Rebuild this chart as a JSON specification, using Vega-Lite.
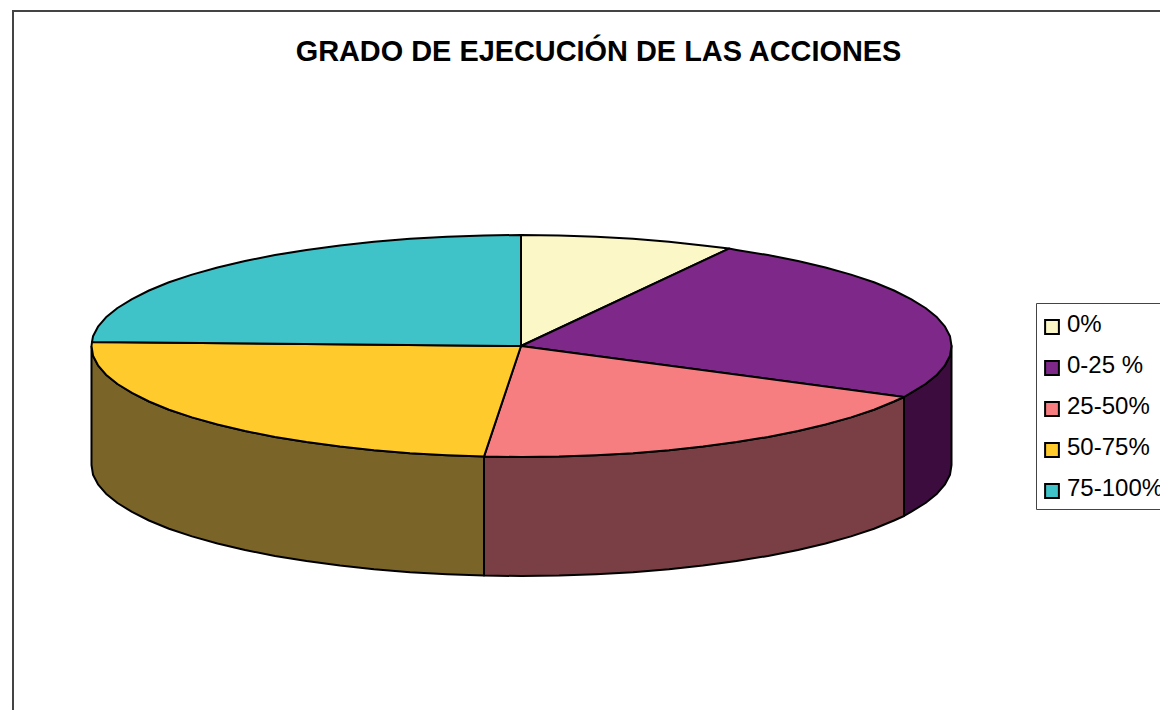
{
"$schema":"https://vega.github.io/schema/vega-lite/v6.json",
"width":1160,"height":710,"padding":0,"autosize":{"type":"none"},"background":"white",
"config":{"view":{"stroke":null},"font":"Liberation Sans"},
"title":{"text":"GRADO DE EJECUCIÓN DE LAS ACCIONES","font":"Liberation Sans","fontSize":28.9,"fontWeight":"bold","color":"black","anchor":"middle","dx":18.5,"dy":71},
"datasets":{
"frame":[{"i":1,"x":13,"y":710},{"i":2,"x":13,"y":11},{"i":3,"x":1160,"y":11}],
"sides":[
{"s":"0-25 %","i":1,"x":904,"y":397},{"s":"0-25 %","i":2,"x":911,"y":392.9},{"s":"0-25 %","i":3,"x":925.5,"y":384},{"s":"0-25 %","i":4,"x":937,"y":374.7},{"s":"0-25 %","i":5,"x":945,"y":365.3},{"s":"0-25 %","i":6,"x":950,"y":355.7},{"s":"0-25 %","i":7,"x":951.5,"y":346},{"s":"0-25 %","i":8,"x":951.5,"y":465},{"s":"0-25 %","i":9,"x":950,"y":474.7},{"s":"0-25 %","i":10,"x":945,"y":484.3},{"s":"0-25 %","i":11,"x":937,"y":493.7},{"s":"0-25 %","i":12,"x":925.5,"y":503},{"s":"0-25 %","i":13,"x":911,"y":511.9},{"s":"0-25 %","i":14,"x":904,"y":516},{"s":"0-25 %","i":15,"x":904,"y":397},
{"s":"25-50%","i":1,"x":484,"y":456.6},{"s":"25-50%","i":2,"x":521.5,"y":457},{"s":"25-50%","i":3,"x":559,"y":456.6},{"s":"25-50%","i":4,"x":596,"y":455.3},{"s":"25-50%","i":5,"x":633,"y":453.2},{"s":"25-50%","i":6,"x":669,"y":450.3},{"s":"25-50%","i":7,"x":703,"y":446.6},{"s":"25-50%","i":8,"x":736.5,"y":442.1},{"s":"25-50%","i":9,"x":768,"y":436.9},{"s":"25-50%","i":10,"x":798,"y":431},{"s":"25-50%","i":11,"x":825.5,"y":424.5},{"s":"25-50%","i":12,"x":851,"y":417.4},{"s":"25-50%","i":13,"x":874,"y":409.7},{"s":"25-50%","i":14,"x":894,"y":401.5},{"s":"25-50%","i":15,"x":904,"y":397},{"s":"25-50%","i":16,"x":904,"y":516},{"s":"25-50%","i":17,"x":894,"y":520.5},{"s":"25-50%","i":18,"x":874,"y":528.7},{"s":"25-50%","i":19,"x":851,"y":536.4},{"s":"25-50%","i":20,"x":825.5,"y":543.5},{"s":"25-50%","i":21,"x":798,"y":550},{"s":"25-50%","i":22,"x":768,"y":555.9},{"s":"25-50%","i":23,"x":736.5,"y":561.1},{"s":"25-50%","i":24,"x":703,"y":565.6},{"s":"25-50%","i":25,"x":669,"y":569.3},{"s":"25-50%","i":26,"x":633,"y":572.2},{"s":"25-50%","i":27,"x":596,"y":574.3},{"s":"25-50%","i":28,"x":559,"y":575.6},{"s":"25-50%","i":29,"x":521.5,"y":576},{"s":"25-50%","i":30,"x":484,"y":575.6},{"s":"25-50%","i":31,"x":484,"y":456.6},
{"s":"50-75%","i":1,"x":91.5,"y":346},{"s":"50-75%","i":2,"x":93,"y":355.7},{"s":"50-75%","i":3,"x":98,"y":365.3},{"s":"50-75%","i":4,"x":106,"y":374.7},{"s":"50-75%","i":5,"x":117.5,"y":384},{"s":"50-75%","i":6,"x":132,"y":392.9},{"s":"50-75%","i":7,"x":149,"y":401.5},{"s":"50-75%","i":8,"x":169,"y":409.7},{"s":"50-75%","i":9,"x":192,"y":417.4},{"s":"50-75%","i":10,"x":217.5,"y":424.5},{"s":"50-75%","i":11,"x":245,"y":431},{"s":"50-75%","i":12,"x":275,"y":436.9},{"s":"50-75%","i":13,"x":306.5,"y":442.1},{"s":"50-75%","i":14,"x":340,"y":446.6},{"s":"50-75%","i":15,"x":374,"y":450.3},{"s":"50-75%","i":16,"x":410,"y":453.2},{"s":"50-75%","i":17,"x":447,"y":455.3},{"s":"50-75%","i":18,"x":484,"y":456.6},{"s":"50-75%","i":19,"x":484,"y":575.6},{"s":"50-75%","i":20,"x":447,"y":574.3},{"s":"50-75%","i":21,"x":410,"y":572.2},{"s":"50-75%","i":22,"x":374,"y":569.3},{"s":"50-75%","i":23,"x":340,"y":565.6},{"s":"50-75%","i":24,"x":306.5,"y":561.1},{"s":"50-75%","i":25,"x":275,"y":555.9},{"s":"50-75%","i":26,"x":245,"y":550},{"s":"50-75%","i":27,"x":217.5,"y":543.5},{"s":"50-75%","i":28,"x":192,"y":536.4},{"s":"50-75%","i":29,"x":169,"y":528.7},{"s":"50-75%","i":30,"x":149,"y":520.5},{"s":"50-75%","i":31,"x":132,"y":511.9},{"s":"50-75%","i":32,"x":117.5,"y":503},{"s":"50-75%","i":33,"x":106,"y":493.7},{"s":"50-75%","i":34,"x":98,"y":484.3},{"s":"50-75%","i":35,"x":93,"y":474.7},{"s":"50-75%","i":36,"x":91.5,"y":465},{"s":"50-75%","i":37,"x":91.5,"y":346}
],
"tops":[
{"s":"0%","i":1,"x":521,"y":346},{"s":"0%","i":2,"x":521,"y":235},{"s":"0%","i":3,"x":559,"y":235.4},{"s":"0%","i":4,"x":596,"y":236.7},{"s":"0%","i":5,"x":633,"y":238.8},{"s":"0%","i":6,"x":669,"y":241.7},{"s":"0%","i":7,"x":703,"y":245.4},{"s":"0%","i":8,"x":729,"y":248.6},{"s":"0%","i":9,"x":521,"y":346},
{"s":"0-25 %","i":1,"x":521,"y":346},{"s":"0-25 %","i":2,"x":729,"y":248.6},{"s":"0-25 %","i":3,"x":736.5,"y":249.9},{"s":"0-25 %","i":4,"x":768,"y":255.1},{"s":"0-25 %","i":5,"x":798,"y":261},{"s":"0-25 %","i":6,"x":825.5,"y":267.5},{"s":"0-25 %","i":7,"x":851,"y":274.6},{"s":"0-25 %","i":8,"x":874,"y":282.3},{"s":"0-25 %","i":9,"x":894,"y":290.5},{"s":"0-25 %","i":10,"x":911,"y":299.1},{"s":"0-25 %","i":11,"x":925.5,"y":308},{"s":"0-25 %","i":12,"x":937,"y":317.3},{"s":"0-25 %","i":13,"x":945,"y":326.7},{"s":"0-25 %","i":14,"x":950,"y":336.3},{"s":"0-25 %","i":15,"x":951.5,"y":346},{"s":"0-25 %","i":16,"x":950,"y":355.7},{"s":"0-25 %","i":17,"x":945,"y":365.3},{"s":"0-25 %","i":18,"x":937,"y":374.7},{"s":"0-25 %","i":19,"x":925.5,"y":384},{"s":"0-25 %","i":20,"x":911,"y":392.9},{"s":"0-25 %","i":21,"x":904,"y":397},{"s":"0-25 %","i":22,"x":521,"y":346},
{"s":"25-50%","i":1,"x":521,"y":346},{"s":"25-50%","i":2,"x":904,"y":397},{"s":"25-50%","i":3,"x":894,"y":401.5},{"s":"25-50%","i":4,"x":874,"y":409.7},{"s":"25-50%","i":5,"x":851,"y":417.4},{"s":"25-50%","i":6,"x":825.5,"y":424.5},{"s":"25-50%","i":7,"x":798,"y":431},{"s":"25-50%","i":8,"x":768,"y":436.9},{"s":"25-50%","i":9,"x":736.5,"y":442.1},{"s":"25-50%","i":10,"x":703,"y":446.6},{"s":"25-50%","i":11,"x":669,"y":450.3},{"s":"25-50%","i":12,"x":633,"y":453.2},{"s":"25-50%","i":13,"x":596,"y":455.3},{"s":"25-50%","i":14,"x":559,"y":456.6},{"s":"25-50%","i":15,"x":521.5,"y":457},{"s":"25-50%","i":16,"x":484,"y":456.6},{"s":"25-50%","i":17,"x":521,"y":346},
{"s":"50-75%","i":1,"x":521,"y":346},{"s":"50-75%","i":2,"x":484,"y":456.6},{"s":"50-75%","i":3,"x":447,"y":455.3},{"s":"50-75%","i":4,"x":410,"y":453.2},{"s":"50-75%","i":5,"x":374,"y":450.3},{"s":"50-75%","i":6,"x":340,"y":446.6},{"s":"50-75%","i":7,"x":306.5,"y":442.1},{"s":"50-75%","i":8,"x":275,"y":436.9},{"s":"50-75%","i":9,"x":245,"y":431},{"s":"50-75%","i":10,"x":217.5,"y":424.5},{"s":"50-75%","i":11,"x":192,"y":417.4},{"s":"50-75%","i":12,"x":169,"y":409.7},{"s":"50-75%","i":13,"x":149,"y":401.5},{"s":"50-75%","i":14,"x":132,"y":392.9},{"s":"50-75%","i":15,"x":117.5,"y":384},{"s":"50-75%","i":16,"x":106,"y":374.7},{"s":"50-75%","i":17,"x":98,"y":365.3},{"s":"50-75%","i":18,"x":93,"y":355.7},{"s":"50-75%","i":19,"x":91.5,"y":346},{"s":"50-75%","i":20,"x":92,"y":342},{"s":"50-75%","i":21,"x":521,"y":346},
{"s":"75-100%","i":1,"x":521,"y":346},{"s":"75-100%","i":2,"x":92,"y":342},{"s":"75-100%","i":3,"x":93,"y":336.3},{"s":"75-100%","i":4,"x":98,"y":326.7},{"s":"75-100%","i":5,"x":106,"y":317.3},{"s":"75-100%","i":6,"x":117.5,"y":308},{"s":"75-100%","i":7,"x":132,"y":299.1},{"s":"75-100%","i":8,"x":149,"y":290.5},{"s":"75-100%","i":9,"x":169,"y":282.3},{"s":"75-100%","i":10,"x":192,"y":274.6},{"s":"75-100%","i":11,"x":217.5,"y":267.5},{"s":"75-100%","i":12,"x":245,"y":261},{"s":"75-100%","i":13,"x":275,"y":255.1},{"s":"75-100%","i":14,"x":306.5,"y":249.9},{"s":"75-100%","i":15,"x":340,"y":245.4},{"s":"75-100%","i":16,"x":374,"y":241.7},{"s":"75-100%","i":17,"x":410,"y":238.8},{"s":"75-100%","i":18,"x":447,"y":236.7},{"s":"75-100%","i":19,"x":484,"y":235.4},{"s":"75-100%","i":20,"x":521,"y":235},{"s":"75-100%","i":21,"x":521,"y":346}
]
},
"encoding":{
"x":{"field":"x","type":"quantitative","axis":null,"scale":{"domain":[0,1160],"nice":false,"zero":false}},
"y":{"field":"y","type":"quantitative","axis":null,"scale":{"domain":[710,0],"nice":false,"zero":false}},
"order":{"field":"i","type":"ordinal"}
},
"layer":[
{"data":{"name":"frame"},"mark":{"type":"line","stroke":"#444444","strokeWidth":2,"strokeCap":"square"}},
{"data":{"name":"sides"},"mark":{"type":"line","stroke":"black","strokeWidth":2,"strokeJoin":"round"},
"encoding":{"fill":{"field":"s","type":"nominal","legend":null,"scale":{"domain":["0-25 %","25-50%","50-75%"],"range":["#3C0C3E","#7A3F44","#7A6428"]}}}},
{"data":{"name":"tops"},"mark":{"type":"line","stroke":"black","strokeWidth":2,"strokeJoin":"round"},
"encoding":{"fill":{"field":"s","type":"nominal","scale":{"domain":["0%","0-25 %","25-50%","50-75%","75-100%"],"range":["#FBF7C6","#7E288A","#F67E80","#FFCB2C","#40C3C8"]},
"legend":{"title":" ","titleFontSize":1,"titlePadding":4,"orient":"none","legendX":1036,"legendY":303,"padding":7,"strokeColor":"#444444","fillColor":"white","symbolType":"square","symbolSize":190,"symbolOffset":-3,"symbolStrokeColor":"black","symbolStrokeWidth":2,"labelFontSize":24,"labelFont":"Liberation Sans","labelColor":"black","labelLimit":300,"rowPadding":16,"labelOffset":3,"encode":{"labels":{"update":{"dy":{"value":-2}}}}}}}}
],
"resolve":{"scale":{"fill":"independent"}}
}
